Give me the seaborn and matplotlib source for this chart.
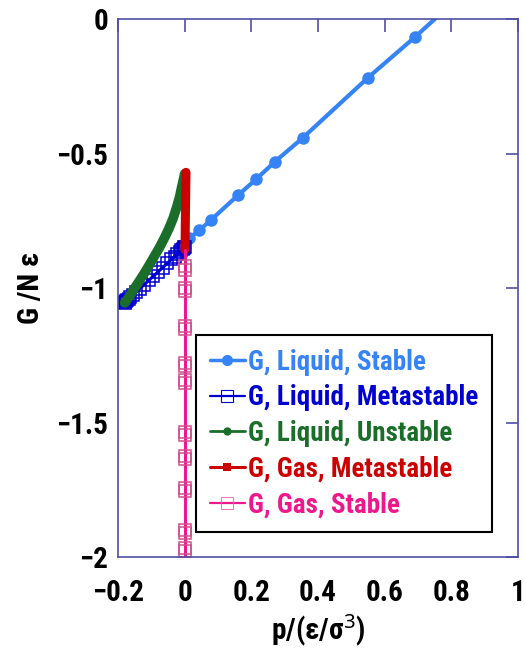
import matplotlib
matplotlib.use("Agg")
import matplotlib.pyplot as plt
from matplotlib.lines import Line2D
import seaborn as sns
import pandas as pd

# Gibbs free energy per particle vs. pressure (reduced units)
liq_stable_p = [0.0, 0.014, 0.044, 0.078, 0.161, 0.214, 0.271, 0.355, 0.55, 0.691, 0.80]
liq_stable_g = [-0.835, -0.815, -0.785, -0.748, -0.654, -0.596, -0.530, -0.441, -0.218, -0.067, 0.056]

liq_meta_p = [-0.180, -0.178, -0.175, -0.172, -0.168, -0.163, -0.155, -0.145, -0.135, -0.122,
              -0.108, -0.094, -0.080, -0.066, -0.052, -0.040, -0.030, -0.022, -0.015, -0.010,
              -0.006, -0.003, -0.001, 0.000]
liq_meta_g = [-1.055, -1.053, -1.049, -1.046, -1.041, -1.035, -1.026, -1.015, -1.003, -0.988,
              -0.972, -0.956, -0.940, -0.924, -0.908, -0.894, -0.883, -0.873, -0.865, -0.860,
              -0.855, -0.851, -0.849, -0.848]

liq_unst_p = [-0.180, -0.165, -0.150, -0.135, -0.120, -0.105, -0.090, -0.075, -0.060, -0.047,
              -0.035, -0.024, -0.015, -0.009, -0.004, 0.000]
liq_unst_g = [-1.055, -1.030, -1.000, -0.972, -0.943, -0.912, -0.880, -0.848, -0.812, -0.778,
              -0.742, -0.700, -0.660, -0.625, -0.598, -0.575]

gas_meta_p = [0.001, 0.002, 0.003, 0.004]
gas_meta_g = [-0.858, -0.750, -0.650, -0.570]

gas_stab_g = [-0.860, -0.920, -0.932, -1.001, -1.012, -1.140, -1.151, -1.278, -1.289, -1.341,
              -1.352, -1.537, -1.548, -1.626, -1.637, -1.745, -1.756, -1.901, -1.912, -1.968,
              -1.979, -2.100]
gas_stab_p = [0.001] * len(gas_stab_g)

x_ticks = [-0.2, 0, 0.2, 0.4, 0.6, 0.8, 1]
x_labels = ["\u22120.2", "0", "0.2", "0.4", "0.6", "0.8", "1"]
y_ticks = [0, -0.5, -1, -1.5, -2]
y_labels = ["0", "\u22120.5", "\u22121", "\u22121.5", "\u22122"]

labels = ["G, Liquid, Stable", "G, Liquid, Metastable", "G, Liquid, Unstable",
          "G, Gas, Metastable", "G, Gas, Stable"]
colors = ["#3583f5", "#0000d0", "#1b6e2a", "#cc0000", "#f0168c"]

sns.set_theme(style="white")
plt.rcParams["font.family"] = ["Roboto Condensed", "Noto Sans", "Liberation Sans"]
plt.rcParams["font.stretch"] = "condensed"
plt.rcParams["font.weight"] = "bold"
plt.rcParams["mathtext.fontset"] = "custom"
plt.rcParams["mathtext.rm"] = "Noto Sans:bold"
plt.rcParams["mathtext.default"] = "rm"

fig = plt.figure(figsize=(5.25, 6.53), dpi=100)
ax = fig.add_axes([0.2248, 0.147, 0.7619, 0.8239])

def draw(p, g, **kw):
    df = pd.DataFrame({"p": p, "g": g})
    sns.lineplot(data=df, x="p", y="g", sort=False, estimator=None, ax=ax, **kw)

draw(liq_stable_p, liq_stable_g, color=colors[0], linewidth=3.0, marker="o",
     markersize=9, markeredgewidth=0, markevery=list(range(1, len(liq_stable_p))))
draw(liq_meta_p, liq_meta_g, color=colors[1], linewidth=2.2, marker="s",
     markersize=8.5, markerfacecolor="none", markeredgecolor=colors[1], markeredgewidth=1.1)
draw(liq_unst_p, liq_unst_g, color=colors[2], linewidth=7, solid_capstyle="round")
draw(gas_meta_p, gas_meta_g, color=colors[3], linewidth=6.5, solid_capstyle="round")
draw(gas_stab_p, gas_stab_g, color=colors[4], linewidth=2.2, marker="s",
     markersize=9, markerfacecolor="none", markeredgecolor="#cf4f8e", markeredgewidth=1.1,
     markevery=list(range(1, len(gas_stab_g) - 1)))

ax.set_xlim(-0.2, 1.0)
ax.set_ylim(-2.0, 0.0)
ax.set_xticks(x_ticks)
ax.set_xticklabels(x_labels)
ax.set_yticks(y_ticks)
ax.set_yticklabels(y_labels)

frame_color = "#4f4fa3"
for s in ax.spines.values():
    s.set_color(frame_color)
    s.set_linewidth(1.2)
ax.tick_params(direction="in", length=9, width=1.2, color=frame_color,
               top=True, right=True, labelsize=21, labelcolor="black")
ax.tick_params(axis="x", pad=16)
ax.tick_params(axis="y", pad=7)

ax.set_xlabel("p/(\u03b5/\u03c3$^{3}$)", fontsize=21, fontweight="bold", labelpad=4,
              color="black")
ax.set_ylabel("G /N \u03b5", fontsize=21, fontweight="bold", labelpad=8, color="black")

handles = [
    Line2D([], [], color=colors[0], lw=2.5, marker="o", markersize=8, markeredgewidth=0),
    Line2D([], [], color=colors[1], lw=1.6, marker="s", markersize=9,
           markerfacecolor="none", markeredgewidth=0.8),
    Line2D([], [], color=colors[2], lw=2.0, marker="o", markersize=6, markeredgewidth=0),
    Line2D([], [], color=colors[3], lw=2.2, marker="s", markersize=6, markeredgewidth=0),
    Line2D([], [], color=colors[4], lw=1.6, marker="s", markersize=9,
           markerfacecolor="none", markeredgecolor="#f07ab5", markeredgewidth=0.8),
]
leg = ax.legend(handles, labels, loc="upper left", bbox_to_anchor=(0.195, 0.4126),
                borderaxespad=0, handlelength=1.3, handletextpad=0.12,
                labelspacing=0.32, borderpad=0.5, fancybox=False, framealpha=1,
                edgecolor="black", prop={"weight": "bold", "size": 19.5})
leg.get_frame().set_linewidth(1.5)
for t, c in zip(leg.get_texts(), colors):
    t.set_color(c)

fig.savefig("out.png", dpi=100)
